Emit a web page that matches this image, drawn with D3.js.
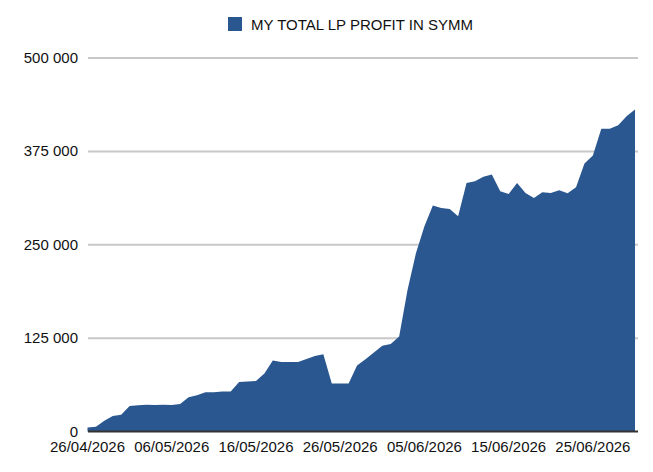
<!DOCTYPE html>
<html>
<head>
<meta charset="utf-8">
<script src="https://cdn.jsdelivr.net/npm/d3@7"></script>
<style>
  body { margin: 0; background: #fff; }
  svg { display: block; font-family: "Liberation Sans", Arial, sans-serif; }
</style>
</head>
<body>
<div id="vis"></div>
<script>
// daily profit, 26/04/2026 .. 30/06/2026
var startDate = "2026-04-26";
var endDate = "2026-06-30";
var profit = [
  5400, 6400, 14500, 20800, 22500, 34200, 35100, 35900, 35500, 35900,
  35500, 36900, 45900, 48500, 52600, 52600, 53400, 53400, 66400, 66800,
  67700, 77500, 94900, 93200, 93200, 93200, 97200, 101200, 103500, 64100,
  64100, 64100, 88200, 96800, 105700, 114700, 117300, 127100, 189700, 239000,
  274600, 302400, 299300, 298000, 288000, 332800, 335000, 340900, 344000, 321600,
  318100, 332800, 319400, 312700, 320200, 319400, 322900, 318900, 326900, 358700,
  369400, 405200, 405200, 410100, 422100, 431100
];
var yTicks = [0, 125000, 250000, 375000, 500000];
var yTickLabels = ["0", "125 000", "250 000", "375 000", "500 000"];
var xTickDates = ["2026-04-26", "2026-05-06", "2026-05-16", "2026-05-26", "2026-06-05", "2026-06-15", "2026-06-25"];
var xTickLabels = ["26/04/2026", "06/05/2026", "16/05/2026", "26/05/2026", "05/06/2026", "15/06/2026", "25/06/2026"];
var seriesName = "MY TOTAL LP PROFIT IN SYMM";

var w = 653;
var h = 472;
var fill = "#2a5790";

var parse = d3.utcParse("%Y-%m-%d");
var days = d3.utcDay.range(parse(startDate), d3.utcDay.offset(parse(endDate), 1));
var data = days.map(function(d, i) { return { date: d, value: profit[i] }; });

var x = d3.scaleUtc()
  .domain([parse(startDate), parse(endDate)])
  .range([87.5, 635]);
var y = d3.scaleLinear()
  .domain([0, 500000])
  .range([431.5, 58]);

var svg = d3.select("#vis")
  .append("svg")
  .attr("width", w)
  .attr("height", h);

// gridlines
svg.append("g")
  .selectAll("line")
  .data(yTicks.slice(1))
  .enter()
  .append("line")
  .attr("x1", 88)
  .attr("x2", 638)
  .attr("y1", function(d) { return y(d); })
  .attr("y2", function(d) { return y(d); })
  .attr("stroke", "#c8c8c8")
  .attr("stroke-width", 2);

// area
var area = d3.area()
  .x(function(d) { return x(d.date); })
  .y0(y(0))
  .y1(function(d) { return y(d.value); });

svg.append("path")
  .datum(data)
  .attr("d", area)
  .attr("fill", fill);

// x axis line
svg.append("line")
  .attr("x1", 88)
  .attr("x2", 638)
  .attr("y1", y(0))
  .attr("y2", y(0))
  .attr("stroke", "#333")
  .attr("stroke-width", 2);

// y labels
svg.append("g")
  .selectAll("text")
  .data(yTicks)
  .enter()
  .append("text")
  .attr("x", 78)
  .attr("y", function(d) { return y(d) + 5; })
  .attr("text-anchor", "end")
  .attr("font-size", 15)
  .attr("fill", "#111")
  .text(function(d, i) { return yTickLabels[i]; });

// x labels
svg.append("g")
  .selectAll("text")
  .data(xTickDates)
  .enter()
  .append("text")
  .attr("x", function(d) { return x(parse(d)); })
  .attr("y", 452)
  .attr("text-anchor", "middle")
  .attr("font-size", 15)
  .attr("fill", "#111")
  .text(function(d, i) { return xTickLabels[i]; });

// legend
var legend = svg.append("g");
legend.append("rect")
  .attr("x", 228)
  .attr("y", 17)
  .attr("width", 14)
  .attr("height", 14)
  .attr("fill", fill);
legend.append("text")
  .attr("x", 251)
  .attr("y", 30)
  .attr("font-size", 15)
  .attr("fill", "#111")
  .text(seriesName);
</script>
</body>
</html>
